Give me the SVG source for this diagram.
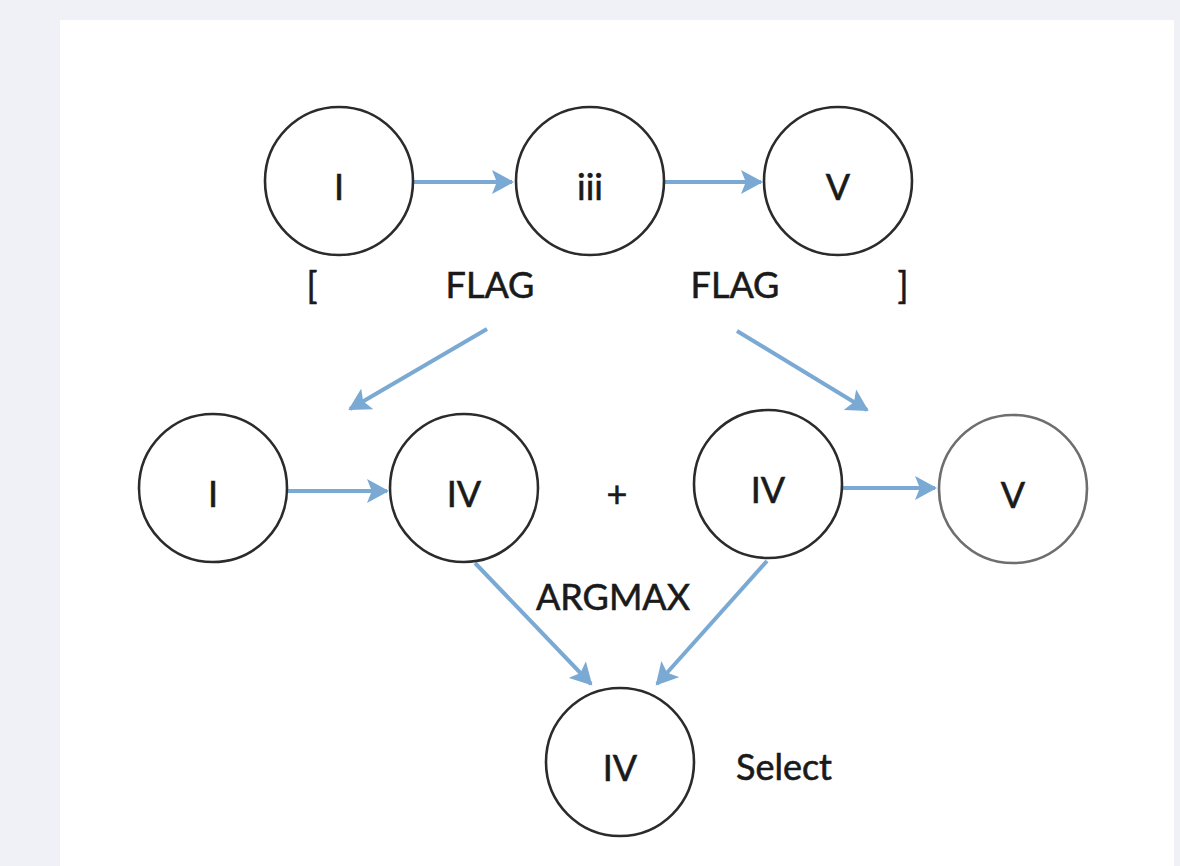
<svg xmlns="http://www.w3.org/2000/svg" width="1180" height="866" viewBox="0 0 1180 866">
<defs>
<marker id="ah" markerWidth="6" markerHeight="6" refX="5" refY="3" orient="auto" markerUnits="strokeWidth">
<path d="M0,0 L5.5,3 L0,6 L1.2,3 Z" fill="#7aa9d4"/>
</marker>
<style>
.n{fill:#fff;stroke:#2b2b2b;stroke-width:2.6}
.t{font-family:Lato,"Open Sans",sans-serif;font-size:36px;fill:#1a1a1a;stroke:#1a1a1a;stroke-width:0.6;text-anchor:middle}
.c{stroke:#7aa9d4;stroke-width:4;fill:none;marker-end:url(#ah)}
</style>
</defs>
<rect width="1180" height="866" fill="#f0f1f6"/>
<rect x="60" y="20" width="1114" height="846" fill="#fff"/>
<g id="connectors">
<line class="c" x1="413" y1="182" x2="512" y2="182"/>
<line class="c" x1="665" y1="182" x2="761" y2="182"/>
<line class="c" x1="288" y1="491" x2="387" y2="491"/>
<line class="c" x1="843" y1="488" x2="935" y2="488"/>
<line class="c" x1="487" y1="329" x2="350" y2="409"/>
<line class="c" x1="737" y1="331" x2="867" y2="410"/>
<line class="c" x1="475" y1="563" x2="591" y2="684"/>
<line class="c" x1="767" y1="561" x2="657" y2="684"/>
</g>
<g id="n1"><circle class="n" cx="339" cy="181" r="74"/><text class="t" x="339" y="200">I</text></g>
<g id="n2"><circle class="n" cx="590" cy="181" r="74"/><text class="t" x="590" y="200">iii</text></g>
<g id="n3"><circle class="n" cx="838" cy="181" r="74"/><text class="t" x="838" y="200">V</text></g>
<g id="n4"><circle class="n" cx="213" cy="488" r="74"/><text class="t" x="213" y="507">I</text></g>
<g id="n5"><circle class="n" cx="464" cy="488" r="74"/><text class="t" x="464" y="507">IV</text></g>
<g id="n6"><circle class="n" cx="768" cy="484" r="74"/><text class="t" x="768" y="503">IV</text></g>
<g id="n7"><circle class="n" cx="1013" cy="489" r="74" style="stroke:#6e6e6e"/><text class="t" x="1013" y="508">V</text></g>
<g id="n8"><circle class="n" cx="620" cy="762" r="74"/><text class="t" x="620" y="781">IV</text></g>
<g id="labels">
<text class="t" x="312" y="299">[</text>
<text class="t" x="490" y="298">FLAG</text>
<text class="t" x="735" y="298">FLAG</text>
<text class="t" x="903" y="299">]</text>
<text class="t" x="617" y="507">+</text>
<text class="t" x="613" y="610">ARGMAX</text>
<text class="t" x="784" y="780">Select</text>
</g>
</svg>
